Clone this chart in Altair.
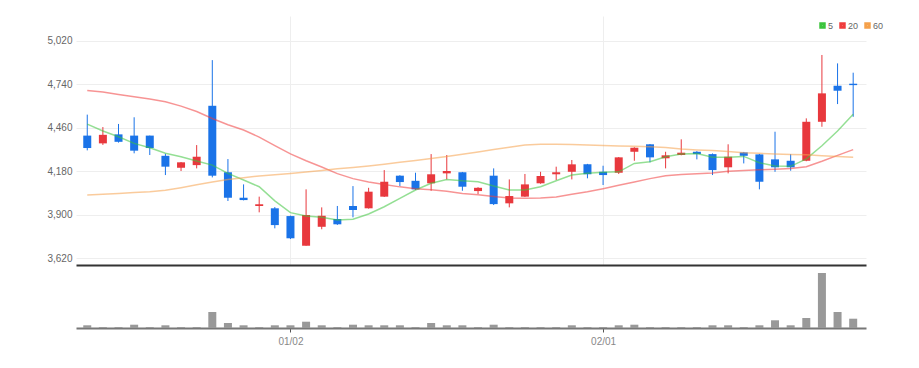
import altair as alt
import pandas as pd

FONT = "Liberation Sans Narrow, Liberation Sans, sans-serif"

idx = list(range(50))
opens = [4410, 4360, 4418, 4410, 4410, 4280, 4203, 4220, 4602, 4174,
         4010, 3957, 3942, 3892, 3701, 3823, 3873, 3957, 3942, 4017,
         4152, 4119, 4103, 4167, 4174, 4053, 4152, 3974, 4017, 4103,
         4161, 4177, 4225, 4177, 4171, 4306, 4354, 4264, 4285, 4306,
         4291, 4206, 4302, 4289, 4257, 4248, 4248, 4499, 4731, 4744]
highs = [4545, 4465, 4485, 4528, 4410, 4293, 4240, 4349, 4896, 4259,
         4096, 4017, 3950, 3895, 4064, 3948, 3957, 4085, 4074, 4188,
         4155, 4171, 4291, 4285, 4176, 4078, 4199, 4128, 4163, 4177,
         4210, 4253, 4228, 4216, 4272, 4335, 4356, 4306, 4386, 4310,
         4295, 4354, 4305, 4292, 4435, 4291, 4521, 4929, 4875, 4815]
lows = [4315, 4350, 4365, 4296, 4285, 4156, 4182, 4199, 4141, 3989,
        3993, 3916, 3813, 3744, 3701, 3807, 3835, 3884, 3940, 4015,
        4085, 4060, 4055, 4128, 4055, 4034, 3963, 3948, 4015, 4100,
        4124, 4128, 4135, 4092, 4163, 4248, 4238, 4199, 4283, 4257,
        4156, 4167, 4231, 4064, 4177, 4184, 4245, 4467, 4613, 4531]
closes = [4330, 4415, 4370, 4313, 4330, 4210, 4238, 4274, 4152, 4010,
          3995, 3968, 3834, 3749, 3899, 3894, 3839, 3931, 4049, 4113,
          4111, 4064, 4161, 4182, 4081, 4074, 3969, 4021, 4096, 4150,
          4174, 4225, 4161, 4156, 4270, 4332, 4270, 4283, 4300, 4291,
          4188, 4274, 4280, 4113, 4206, 4206, 4499, 4682, 4699, 4735]
volumes = [27000, 10000, 10000, 33000, 10000, 27000, 10000, 10000, 160000, 50000,
           27000, 10000, 27000, 27000, 63000, 27000, 10000, 33000, 27000, 27000,
           27000, 10000, 50000, 27000, 27000, 10000, 33000, 10000, 10000, 10000,
           10000, 27000, 10000, 10000, 27000, 33000, 10000, 10000, 10000, 10000,
           27000, 27000, 10000, 27000, 77000, 27000, 100000, 550000, 160000, 93000]
ma5 = [4484, 4440, 4403, 4360, 4332, 4296, 4274, 4246, 4220, 4167,
       4124, 4081, 3990, 3914, 3892, 3884, 3866, 3871, 3905, 3952,
       4006, 4060, 4103, 4128, 4119, 4113, 4085, 4060, 4060, 4081,
       4119, 4156, 4167, 4174, 4177, 4231, 4242, 4274, 4291, 4294,
       4270, 4270, 4276, 4235, 4214, 4212, 4260, 4345, 4440, 4548]
ma20 = [4700, 4690, 4675, 4660, 4645, 4628, 4600, 4565, 4520, 4480,
        4446, 4400, 4345, 4292, 4248, 4208, 4165, 4133, 4112, 4095,
        4080, 4068, 4062, 4052, 4037, 4030, 4018, 4008, 4006, 4008,
        4015, 4032, 4048, 4068, 4090, 4112, 4133, 4152, 4160, 4165,
        4170, 4180, 4186, 4190, 4194, 4198, 4210, 4245, 4283, 4320]
ma60 = [4028, 4033, 4038, 4043, 4048, 4058, 4075, 4093, 4112, 4128,
        4139, 4150, 4158, 4166, 4176, 4186, 4196, 4205, 4215, 4226,
        4238, 4250, 4263, 4275, 4290, 4305, 4320, 4335, 4350, 4354,
        4354, 4352, 4350, 4346, 4343, 4341, 4338, 4334, 4324, 4318,
        4314, 4307, 4300, 4296, 4292, 4289, 4286, 4280, 4275, 4270]
ma_names = ["5", "20", "60"]
price_ticks = [3620, 3900, 4180, 4460, 4740, 5020]
tick_idx = [13, 33]
tick_labels = ["01/02", "02/01"]

RED = "#e8383d"
BLUE = "#1a73e8"
MA_COLORS = ["#3cc43c", "#f03c3c", "#f5a04a"]

df = pd.DataFrame({"i": idx, "open": opens, "high": highs, "low": lows,
                   "close": closes, "volume": volumes})
ma_df = pd.DataFrame({
    "i": idx * 3,
    "ma": [ma_names[0]] * 50 + [ma_names[1]] * 50 + [ma_names[2]] * 50,
    "value": ma5 + ma20 + ma60,
})

label_expr = " : ".join(
    f"datum.value == {v} ? '{t}'" for v, t in zip(tick_idx, tick_labels)
) + " : ''"

xscale = alt.Scale(domain=[-0.4, 49.5], nice=False, zero=False)
yscale = alt.Scale(domain=[3577, 5180], nice=False, zero=False)

x_up = alt.X("i:Q", scale=xscale,
             axis=alt.Axis(values=tick_idx, labels=False, ticks=False,
                           domainColor="#333333", domainWidth=2,
                           grid=True, gridColor="#eeeeee", title=None,
                           minExtent=0, maxExtent=0))
y_axis = alt.Axis(values=price_ticks, format=",d", labelFont=FONT,
                  labelFontSize=10, labelColor="#666666", ticks=False,
                  domain=False, grid=True, gridColor="#eeeeee", title=None,
                  labelPadding=4, minExtent=68, maxExtent=68)

color_cond = alt.condition("datum.close >= datum.open", alt.value(RED), alt.value(BLUE))

wicks = alt.Chart(df).mark_rule(strokeWidth=1).encode(
    x=x_up,
    y=alt.Y("low:Q", scale=yscale, axis=y_axis),
    y2="high:Q",
    color=color_cond,
)
bodies = alt.Chart(df).mark_bar(size=8).encode(
    x=x_up,
    y=alt.Y("open:Q", scale=yscale, axis=y_axis),
    y2="close:Q",
    color=color_cond,
)
lines = alt.Chart(ma_df).mark_line(strokeWidth=1.5, opacity=0.55).encode(
    x=x_up,
    y=alt.Y("value:Q", scale=yscale, axis=y_axis),
    color=alt.Color("ma:N", scale=alt.Scale(domain=ma_names, range=MA_COLORS),
                    legend=alt.Legend(orient="none", legendX=742, legendY=5,
                                      direction="horizontal", title=None,
                                      symbolType="square", symbolSize=12,
                                      symbolStrokeWidth=3, symbolOpacity=1,
                                      labelFontSize=9, labelColor="#666666",
                                      labelFont=FONT, columnPadding=0,
                                      gridAlign="none",
                                      labelOffset=1, padding=0)),
)

upper = alt.layer(wicks, bodies, lines).properties(width=790, height=249)

lower = alt.Chart(df).mark_bar(size=8, color="#999999").encode(
    x=alt.X("i:Q", scale=xscale,
            axis=alt.Axis(values=tick_idx, labelExpr=label_expr,
                          domainColor="#777777", domainWidth=2,
                          tickColor="#555555", tickSize=4,
                          labelColor="#888888", labelFontSize=10,
                          labelFont=FONT, grid=False, title=None,
                          labelPadding=4)),
    y=alt.Y("volume:Q", scale=alt.Scale(domain=[0, 630000], nice=False),
            axis=alt.Axis(labels=False, ticks=False, domain=False, grid=False,
                          title=None, minExtent=68, maxExtent=68)),
).properties(width=790, height=63)

chart = alt.vconcat(upper, lower, spacing=0).properties(
    padding={"left": 0, "top": 8, "right": 5, "bottom": 5}
).configure_view(stroke=None)

chart.save("out.html", embed_options={"renderer": "svg", "actions": False})
